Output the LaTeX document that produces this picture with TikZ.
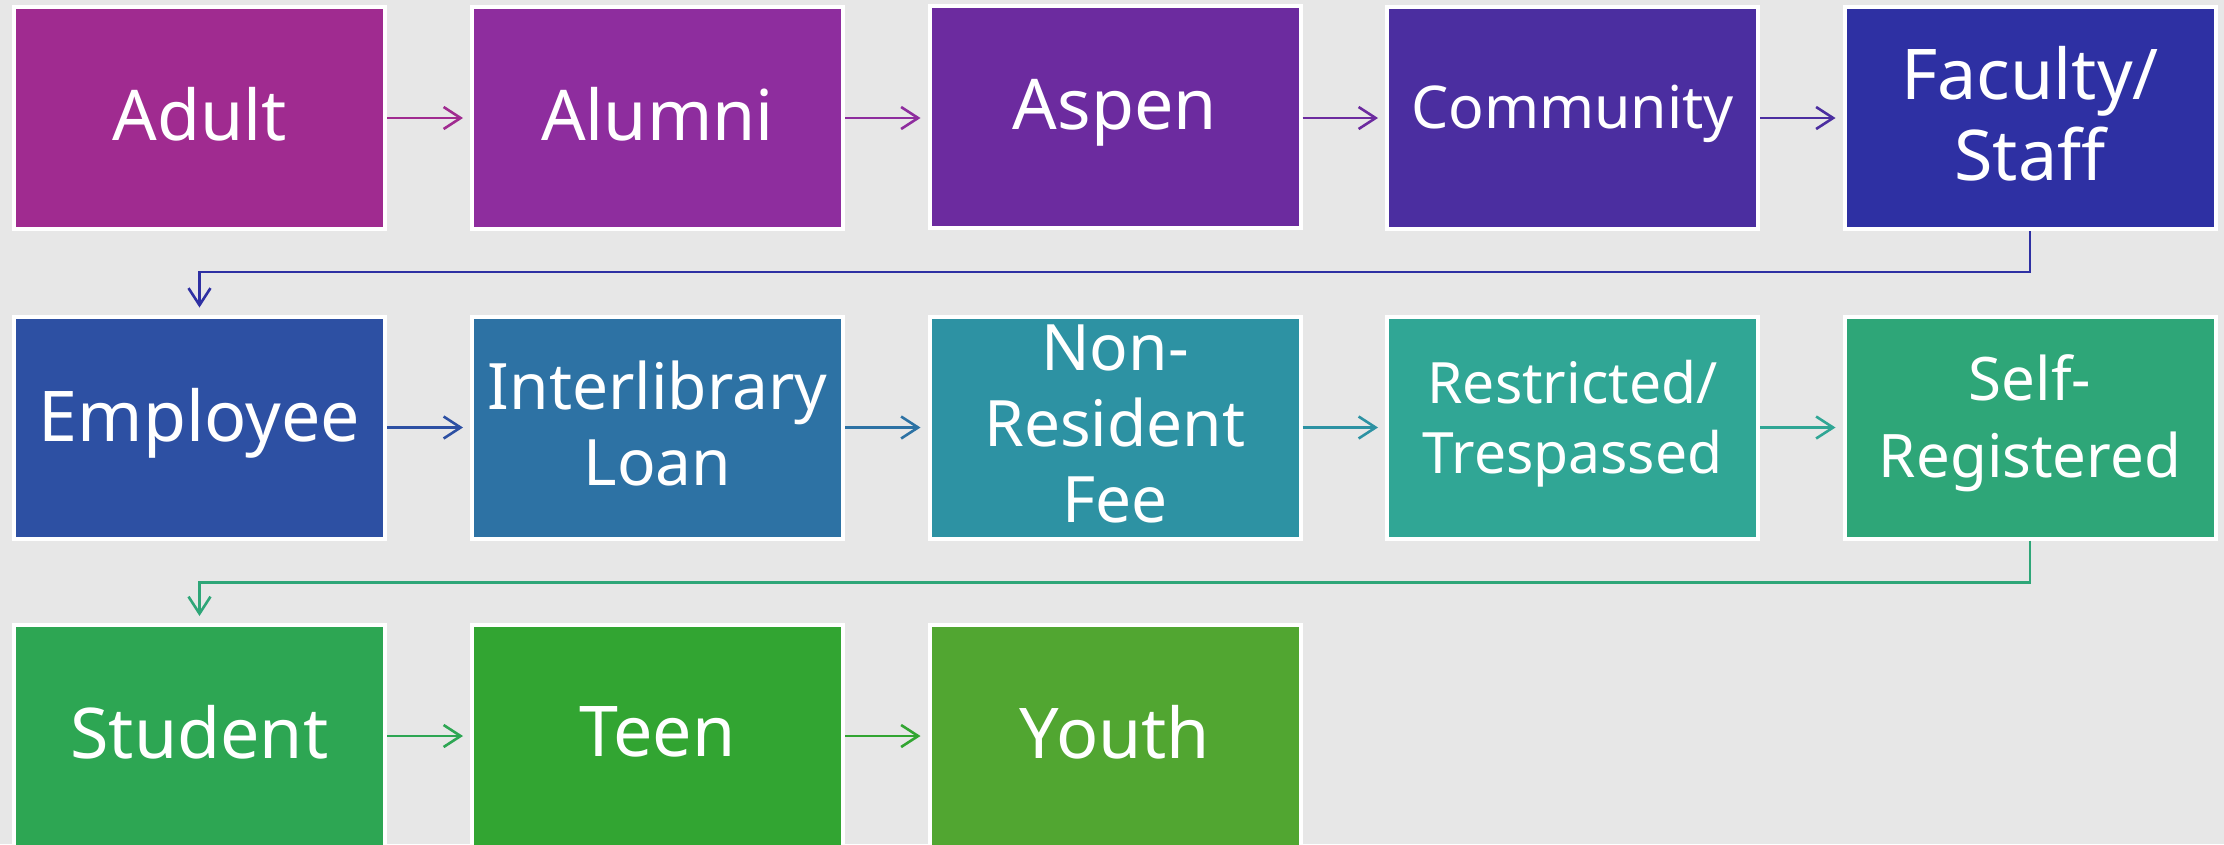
\documentclass[tikz,border=0pt]{standalone}
\usepackage{fontspec}
\setmainfont{Noto Sans}
\usetikzlibrary{arrows.meta}
\definecolor{bg}{HTML}{E7E7E7}
\definecolor{c1}{HTML}{A02B90}
\definecolor{c2}{HTML}{8E2D9E}
\definecolor{c3}{HTML}{6C2B9F}
\definecolor{c4}{HTML}{4B2EA0}
\definecolor{c5}{HTML}{2E30A3}
\definecolor{c6}{HTML}{2D50A3}
\definecolor{c7}{HTML}{2D72A4}
\definecolor{c8}{HTML}{2D92A3}
\definecolor{c9}{HTML}{30A695}
\definecolor{c10}{HTML}{2EA678}
\definecolor{c11}{HTML}{2DA653}
\definecolor{c12}{HTML}{32A532}
\definecolor{c13}{HTML}{51A631}
\newcommand{\fsA}{\fontsize{70}{81}\selectfont}
\newcommand{\fsB}{\fontsize{64}{76}\selectfont}
\newcommand{\fsC}{\fontsize{59}{70}\selectfont}
\newcommand{\fsD}{\fontsize{57}{70}\selectfont}
\newcommand{\fsE}{\fontsize{60}{77}\selectfont}
\tikzset{
  box/.style={draw=white, line width=4pt, minimum width=371pt, minimum height=222pt,
    inner sep=0pt},
  lbl/.style={text=white, align=center, inner sep=0pt, yshift=4pt, font=\fsA},
  conn/.style={line width=2.6pt, shorten >=7pt,
    -{Straight Barb[length=17pt,width=22pt,line width=2.6pt]}}
}
\begin{document}
\begin{tikzpicture}[x=1pt,y=-1pt]
\clip (0,0) rectangle (2224,844);
\fill[bg] (0,0) rectangle (2224,844);
% row 1
\node[box, fill=c1, label={[lbl]center:Adult}] (adult) at (199.5,118) {};
\node[box, fill=c2, label={[lbl]center:Alumni}] (alumni) at (657.5,118) {};
\node[box, fill=c3, label={[lbl]center:Aspen}] (aspen) at (1115,117) {};
\node[box, fill=c4, label={[lbl, font=\fsC]center:Community}] (comm) at (1572.5,118) {};
\node[box, fill=c5, label={[lbl]center:Faculty/\\Staff}] (fac) at (2030,118) {};
% row 2
\node[box, fill=c6, label={[lbl]center:Employee}] (emp) at (199.5,427.5) {};
\node[box, fill=c7, label={[lbl, font=\fsB]center:Interlibrary\\Loan}] (ill) at (657.5,427.5) {};
\node[box, fill=c8, label={[lbl, font=\fsB]center:Non-\\Resident\\Fee}] (nonres) at (1115,427.5) {};
\node[box, fill=c9, label={[lbl, font=\fsD]center:Restricted/\\Trespassed}] (restr) at (1572.5,427.5) {};
\node[box, fill=c10, label={[lbl, font=\fsE]center:Self-\\Registered}] (self) at (2030,427.5) {};
% row 3
\node[box, fill=c11, label={[lbl]center:Student}] (stu) at (199.5,736) {};
\node[box, fill=c12, label={[lbl]center:Teen}] (teen) at (657.5,736) {};
\node[box, fill=c13, label={[lbl]center:Youth}] (youth) at (1115,736) {};
% connectors
\draw[conn, c1] (adult.east) -- (alumni.west);
\draw[conn, c2] (alumni.east) -- (aspen.west |- alumni.east);
\draw[conn, c3] (aspen.east |- comm.west) -- (comm.west);
\draw[conn, c4] (comm.east) -- (fac.west);
\draw[conn, c5] (fac.south) -- ++(0,41) -| (emp.north);
\draw[conn, c6] (emp.east) -- (ill.west);
\draw[conn, c7] (ill.east) -- (nonres.west);
\draw[conn, c8] (nonres.east) -- (restr.west);
\draw[conn, c9] (restr.east) -- (self.west);
\draw[conn, c10] (self.south) -- ++(0,42) -| (stu.north);
\draw[conn, c11] (stu.east) -- (teen.west);
\draw[conn, c12] (teen.east) -- (youth.west);
\end{tikzpicture}
\end{document}
